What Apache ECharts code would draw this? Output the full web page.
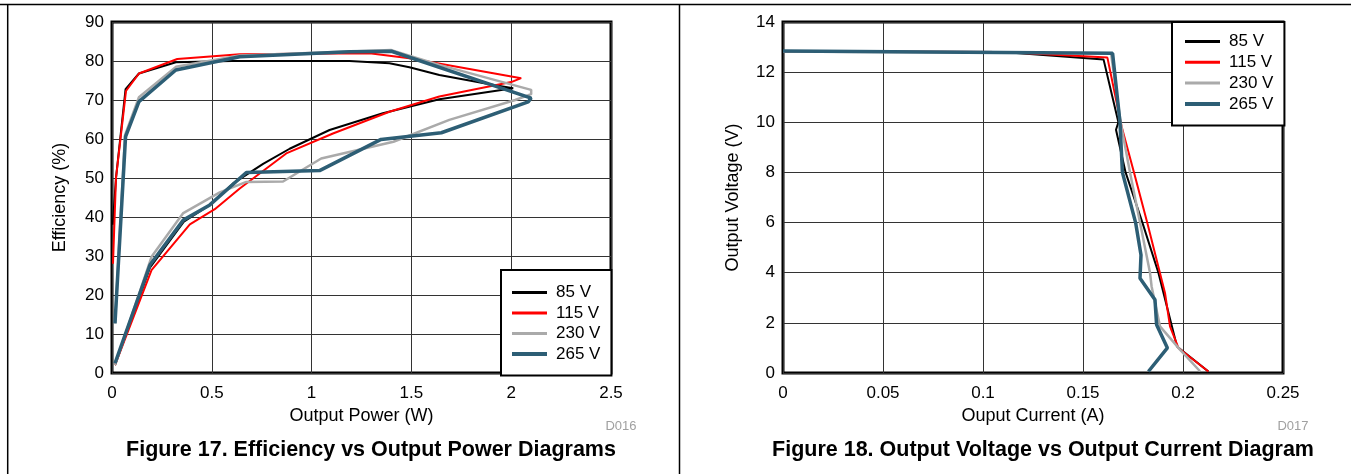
<!DOCTYPE html>
<html>
<head>
<meta charset="utf-8">
<script src="https://cdn.jsdelivr.net/npm/echarts@6/dist/echarts.min.js"></script>
<style>
html,body{margin:0;padding:0;background:#fff;}
#c{width:1351px;height:474px;}
</style>
</head>
<body>
<div id="c"></div>
<script>
// ---------- data ----------
const seriesNames = ['85 V', '115 V', '230 V', '265 V'];
const seriesColors = ['#000000', '#ff0000', '#aaaaaa', '#2d5e75'];
const seriesWidths = [2, 2, 2.5, 3.5];
const legendWidths = [3, 3, 3, 4];

// Figure 17: Efficiency (%) vs Output Power (W)  [power, efficiency]
const eff85 = [[0.015,2],[0.19,27],[0.36,38.8],[0.49,43.1],[0.607,48.6],[0.757,53.6],[0.89,57.5],[1.09,62.3],[1.357,66.6],[1.64,70.2],[2.01,73],
  [1.92,73.8],[1.64,76.4],[1.49,78.4],[1.39,79.4],[1.19,80],[0.6,80],[0.32,79.7],[0.135,76.8],[0.068,72.8],[0.02,50],[0.004,38]];
const eff115 = [[0.015,2],[0.198,26.4],[0.39,38.1],[0.515,42],[0.64,47.3],[0.873,56.3],[1.107,61.4],[1.39,67],[1.64,70.9],[2.0,74.6],[2.05,75.6],
  [1.49,80.7],[1.29,82],[0.64,81.7],[0.327,80.5],[0.135,76.8],[0.07,72.3],[0.02,50],[0.005,28]];
const eff230 = [[0.015,2],[0.198,29.8],[0.357,41],[0.54,46.3],[0.673,49],[0.857,49.1],[1.048,55],[1.41,59.3],[1.69,64.9],[2.02,70],[2.1,71.5],[2.1,72.6],
  [1.64,79],[1.40,82.8],[0.64,81.4],[0.32,78.5],[0.135,70.7],[0.065,61],[0.015,12.7]];
const eff265 = [[0.015,2.5],[0.19,27.7],[0.357,39.2],[0.49,43.1],[0.673,51.4],[1.04,51.9],[1.348,59.9],[1.65,61.6],[2.085,69.5],[2.1,70.5],
  [2.09,71],[1.40,82.5],[1.19,82.4],[0.64,81.1],[0.32,77.7],[0.135,69.6],[0.068,60.6],[0.015,12.7]];

// Figure 18: Output Voltage (V) vs Output Current (A)  [current, voltage]
const vi85 = [[0,12.82],[0.11,12.8],[0.1603,12.5],[0.1677,10],[0.1665,9.7],[0.1713,8],[0.1797,6],[0.1877,4],[0.197,1.06],[0.2127,0.06]];
const vi115 = [[0,12.82],[0.11,12.8],[0.1622,12.58],[0.1693,9.83],[0.1755,8],[0.1821,6],[0.191,3.19],[0.1935,1.86],[0.1977,1.0],[0.2127,0.06]];
const vi230 = [[0,12.82],[0.164,12.75],[0.1688,10],[0.1735,8],[0.1785,6],[0.1835,4],[0.1843,3.45],[0.1885,1.86],[0.1985,0.93],[0.2085,0.07]];
const vi265 = [[0,12.84],[0.1648,12.75],[0.1685,10],[0.1697,8],[0.1763,6],[0.179,4.71],[0.1785,3.78],[0.186,2.92],[0.1868,1.92],[0.1922,1.0],[0.1827,0.06]];

// axis ticks
const powerTicks = [0, 0.5, 1, 1.5, 2, 2.5];
const effTicks = [0, 10, 20, 30, 40, 50, 60, 70, 80, 90];
const currentTicks = [0, 0.05, 0.1, 0.15, 0.2, 0.25];
const voltTicks = [0, 2, 4, 6, 8, 10, 12, 14];

// ---------- chart ----------
const FONT = '"Liberation Sans", Arial, sans-serif';
const chart = echarts.init(document.getElementById('c'), null, {renderer: 'canvas'});

function axisBase(ticks, name, gap, gridIndex, labelMargin) {
  return {
    type: 'value', gridIndex: gridIndex,
    min: ticks[0], max: ticks[ticks.length - 1], interval: ticks[1] - ticks[0],
    name: name, nameLocation: 'middle', nameGap: gap,
    nameTextStyle: {fontSize: 18, color: '#000', fontFamily: FONT},
    axisLine: {show: false}, axisTick: {show: false},
    axisLabel: {fontSize: 17, color: '#000', fontFamily: FONT, margin: labelMargin},
    splitLine: {show: true, lineStyle: {color: '#333', width: 1}}
  };
}

function mkSeries(data, i, gi) {
  return {
    type: 'line', name: seriesNames[i], data: data,
    xAxisIndex: gi, yAxisIndex: gi,
    symbol: 'none', smooth: false, z: 2 + i,
    lineStyle: {color: seriesColors[i], width: seriesWidths[i]},
    itemStyle: {color: seriesColors[i]}
  };
}

function mkLegend(left, top, gap, padding) {
  return {
    orient: 'vertical', left: left, top: top,
    data: seriesNames.map((n, i) => ({name: n, lineStyle: {color: seriesColors[i], width: legendWidths[i]}})),
    itemWidth: 35, itemHeight: 14,
    itemGap: gap,
    padding: padding,
    itemStyle: {opacity: 0},
    borderColor: '#000', borderWidth: 2, backgroundColor: '#fff',
    selectedMode: false,
    textStyle: {fontSize: 17, color: '#000', fontFamily: FONT, padding: [0, 0, 0, 4]}
  };
}

const option = {
  animation: false,
  backgroundColor: '#fff',
  textStyle: {fontFamily: FONT},
  grid: [
    {left: 112, top: 22, width: 499, height: 351, show: true, borderColor: '#000', borderWidth: 3, backgroundColor: 'transparent'},
    {left: 783, top: 22, width: 500, height: 351, show: true, borderColor: '#000', borderWidth: 3, backgroundColor: 'transparent'}
  ],
  xAxis: [
    axisBase(powerTicks, 'Output Power (W)', 34, 0, 12),
    axisBase(currentTicks, 'Ouput Current (A)', 34, 1, 12)
  ],
  yAxis: [
    axisBase(effTicks, 'Efficiency (%)', 43, 0, 8),
    axisBase(voltTicks, 'Output Voltage (V)', 41, 1, 8)
  ],
  legend: [
    mkLegend(501, 270, 3.5, [14, 11, 13, 9]),
    mkLegend(1172, 22, 3.8, [11, 11, 13, 11])
  ],
  series: [
    mkSeries(eff85, 0, 0), mkSeries(eff115, 1, 0), mkSeries(eff230, 2, 0), mkSeries(eff265, 3, 0),
    mkSeries(vi85, 0, 1), mkSeries(vi115, 1, 1), mkSeries(vi230, 2, 1), mkSeries(vi265, 3, 1)
  ],
  graphic: [
    {type: 'line', silent: true, shape: {x1: 0, y1: 4.5, x2: 1351, y2: 4.5}, style: {stroke: '#000', lineWidth: 1.5}},
    {type: 'line', silent: true, shape: {x1: 7.7, y1: 4.5, x2: 7.7, y2: 474}, style: {stroke: '#000', lineWidth: 1.5}},
    {type: 'line', silent: true, shape: {x1: 679.5, y1: 4.5, x2: 679.5, y2: 474}, style: {stroke: '#000', lineWidth: 1.5}},
    {type: 'text', x: 371, y: 450, style: {text: 'Figure 17. Efficiency vs Output Power Diagrams', font: 'bold 21.5px ' + FONT, textAlign: 'center', textVerticalAlign: 'middle', fill: '#000'}},
    {type: 'text', x: 1043, y: 450, style: {text: 'Figure 18. Output Voltage vs Output Current Diagram', font: 'bold 21.5px ' + FONT, textAlign: 'center', textVerticalAlign: 'middle', fill: '#000'}},
    {type: 'text', x: 621, y: 426, style: {text: 'D016', font: '13px ' + FONT, textAlign: 'center', textVerticalAlign: 'middle', fill: '#a0a0a0'}},
    {type: 'text', x: 1293, y: 426, style: {text: 'D017', font: '13px ' + FONT, textAlign: 'center', textVerticalAlign: 'middle', fill: '#a0a0a0'}}
  ]
};
chart.setOption(option);
</script>
</body>
</html>
